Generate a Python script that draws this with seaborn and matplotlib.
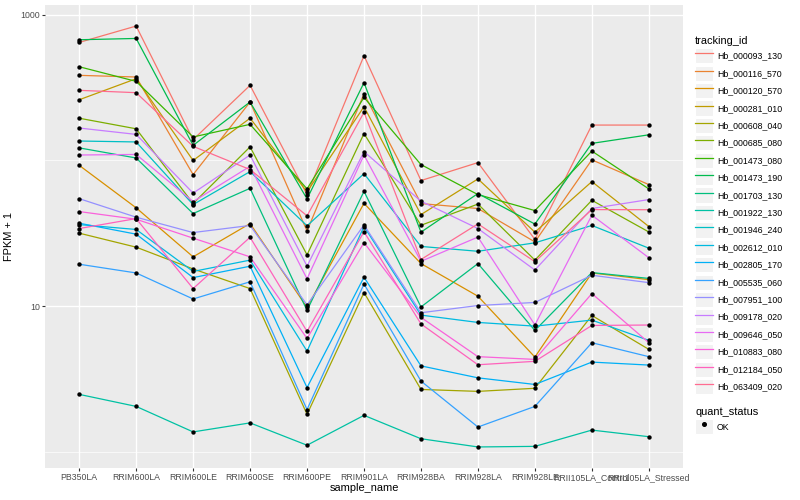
# plot.py
# FPKM + 1 per sample for 20 tracked genes, log scale, ggplot-like look

import numpy as np
import pandas as pd
import matplotlib
matplotlib.use('Agg')
import matplotlib.pyplot as plt
import seaborn as sns
from matplotlib.lines import Line2D
from matplotlib.patches import Rectangle
from matplotlib.legend_handler import HandlerTuple
from matplotlib.ticker import FixedLocator, NullFormatter

samples = ['PB350LA', 'RRIM600LA', 'RRIM600LE', 'RRIM600SE', 'RRIM600PE', 'RRIM901LA',
           'RRIM928BA', 'RRIM928LA', 'RRIM928LE', 'RRII105LA_Control', 'RRII105LA_Stressed']

genes = ['Hb_000093_130', 'Hb_000116_570', 'Hb_000120_570', 'Hb_000281_010', 'Hb_000608_040',
         'Hb_000685_080', 'Hb_001473_080', 'Hb_001473_190', 'Hb_001703_130', 'Hb_001922_130',
         'Hb_001946_240', 'Hb_002612_010', 'Hb_002805_170', 'Hb_005535_060', 'Hb_007951_100',
         'Hb_009178_020', 'Hb_009646_050', 'Hb_010883_080', 'Hb_012184_050', 'Hb_063409_020']

# ggplot default hue palette for 20 levels
colors = ['#F8766D', '#EA8331', '#D89000', '#C09B00', '#A3A500', '#7CAE00', '#39B600', '#00BB4E',
          '#00BF7D', '#00C1A3', '#00BFC4', '#00BAE0', '#00B0F6', '#35A2FF', '#9590FF', '#C77CFF',
          '#E76BF3', '#FA62DB', '#FF62BC', '#FF6C91']

# FPKM + 1, one value per sample (same order as samples)
hb_000093_130 = [646, 837, 139, 328, 58.3, 524, 72.8, 96.7, 28.7, 175, 175]
hb_000116_570 = [384, 374, 80.0, 252, 32.8, 287, 50.6, 46.8, 27.6, 101, 68.3]
hb_000120_570 = [92.6, 47.3, 21.8, 36.9, 9.80, 50.8, 19.6, 11.7, 4.47, 16.9, 15.2]
hb_000281_010 = [261, 364, 100, 195, 60.9, 234, 42.5, 74.7, 32.2, 71.6, 35.2]
hb_000608_040 = [31.7, 25.4, 18.0, 13.2, 1.81, 12.4, 2.68, 2.60, 2.73, 8.63, 5.05]
hb_000685_080 = [195, 165, 50.6, 124, 22.5, 153, 35.9, 50.2, 20.7, 53.3, 32.3]
hb_001473_080 = [440, 349, 145, 177, 63.8, 271, 93.7, 58.3, 45.3, 116, 63.8]
hb_001473_190 = [674, 688, 127, 252, 54.5, 342, 32.2, 59.3, 36.6, 131, 150]
hb_001703_130 = [122, 104, 43.2, 64.4, 9.34, 61.4, 9.87, 19.6, 6.81, 17.0, 15.5]
hb_001922_130 = [2.48, 2.05, 1.37, 1.58, 1.11, 1.78, 1.23, 1.08, 1.09, 1.41, 1.27]
hb_001946_240 = [136, 134, 49.8, 83.9, 35.6, 81.2, 25.7, 23.8, 27.2, 35.8, 25.0]
hb_002612_010 = [36.3, 33.6, 17.3, 20.7, 4.91, 35.2, 8.68, 7.73, 7.29, 8.02, 5.82]
hb_002805_170 = [37.1, 31.2, 15.7, 18.8, 2.76, 15.8, 3.89, 3.22, 2.90, 4.13, 3.94]
hb_005535_060 = [19.4, 16.9, 11.2, 14.7, 1.95, 14.2, 3.06, 1.48, 2.05, 5.61, 4.50]
hb_007951_100 = [54.7, 40.8, 32.0, 35.8, 10.2, 36.1, 9.01, 10.1, 10.6, 16.3, 14.5]
hb_009178_020 = [167, 151, 59.7, 109, 18.8, 115, 52.5, 34.1, 17.7, 46.8, 53.9]
hb_009646_050 = [109, 110, 52.2, 91.2, 15.4, 109, 20.3, 29.8, 7.43, 42.1, 21.5]
hb_010883_080 = [44.6, 39.5, 29.3, 21.8, 6.00, 27.3, 8.37, 4.50, 4.31, 12.2, 5.61]
hb_012184_050 = [34.1, 39.9, 13.2, 29.7, 6.71, 32.4, 7.55, 3.96, 4.18, 7.37, 7.42]
hb_063409_020 = [303, 292, 125, 86.6, 41.7, 214, 20.9, 36.7, 20.2, 46.0, 45.9]

series = [hb_000093_130, hb_000116_570, hb_000120_570, hb_000281_010, hb_000608_040,
          hb_000685_080, hb_001473_080, hb_001473_190, hb_001703_130, hb_001922_130,
          hb_001946_240, hb_002612_010, hb_002805_170, hb_005535_060, hb_007951_100,
          hb_009178_020, hb_009646_050, hb_010883_080, hb_012184_050, hb_063409_020]

rows = []
for g, vals in zip(genes, series):
    for s, v in zip(samples, vals):
        rows.append({'tracking_id': g, 'sample_name': s, 'fpkm1': v, 'quant_status': 'OK'})
df = pd.DataFrame(rows)
df['pos'] = df['sample_name'].map({s: i for i, s in enumerate(samples)})

plt.rcParams['font.family'] = ['Liberation Sans', 'DejaVu Sans']

fig = plt.figure(figsize=(8, 5), dpi=100)
ax = fig.add_axes([45 / 800, 32 / 500, 638 / 800, 463 / 500])
ax.set_facecolor('#EBEBEB')

sns.lineplot(data=df, x='pos', y='fpkm1', hue='tracking_id', hue_order=genes, palette=colors,
             lw=0.9, legend=False, errorbar=None, ax=ax, zorder=2)
sns.scatterplot(data=df, x='pos', y='fpkm1', color='black', s=10, linewidth=0,
                legend=False, ax=ax, zorder=3)

ax.set_yscale('log')
lo, hi = np.log10(df['fpkm1'].min()), np.log10(df['fpkm1'].max())
pad = (hi - lo) * 0.05
ax.set_ylim(10 ** (lo - pad), 10 ** (hi + pad))
ax.set_xlim(-0.6, len(samples) - 0.4)

ax.set_xticks(range(len(samples)))
ax.set_xticklabels(samples)
ax.yaxis.set_major_locator(FixedLocator([10, 1000]))
ax.set_yticklabels(['10', '1000'])
ax.yaxis.set_minor_locator(FixedLocator([1, 100]))
ax.yaxis.set_minor_formatter(NullFormatter())

ax.grid(which='major', color='white', lw=1.0)
ax.grid(which='minor', axis='y', color='white', lw=0.5)
ax.set_axisbelow(True)
for sp in ax.spines.values():
    sp.set_visible(False)
ax.tick_params(which='major', length=2, width=0.8, color='#333333', labelsize=6.3,
               labelcolor='#4D4D4D', pad=1.5)
ax.tick_params(which='minor', length=0)

ax.set_xlabel('sample_name', fontsize=7.9, labelpad=1)
ax.set_ylabel('FPKM + 1', fontsize=7.9, labelpad=5)

# legends, ggplot style keys
key_h = 2.3
handles = [(Rectangle((0, 0), 1, 1, fc='#F2F2F2', ec='white', lw=0.8),
            Line2D([], [], color=c, lw=0.9)) for c in colors]
leg1 = fig.legend(handles, genes, handler_map={tuple: HandlerTuple(ndivide=1, pad=0)},
                  loc='upper left', bbox_to_anchor=(695 / 800, 1 - 36 / 500),
                  frameon=False, title='tracking_id', title_fontsize=7.9, fontsize=6.3,
                  alignment='left', handlelength=2.0, handleheight=key_h,
                  handletextpad=0.5, labelspacing=0.25, borderpad=0, borderaxespad=0)

ok_handle = [(Rectangle((0, 0), 1, 1, fc='#F2F2F2', ec='white', lw=0.8),
              Line2D([], [], color='black', marker='o', ms=2.6, lw=0))]
leg2 = fig.legend(ok_handle, ['OK'], handler_map={tuple: HandlerTuple(ndivide=1, pad=0)},
                  loc='upper left', bbox_to_anchor=(695 / 800, 1 - 407 / 500),
                  frameon=False, title='quant_status', title_fontsize=7.9, fontsize=6.3,
                  alignment='left', handlelength=2.0, handleheight=key_h,
                  handletextpad=0.5, labelspacing=0.25, borderpad=0, borderaxespad=0)

fig.savefig('out.png', dpi=100)
